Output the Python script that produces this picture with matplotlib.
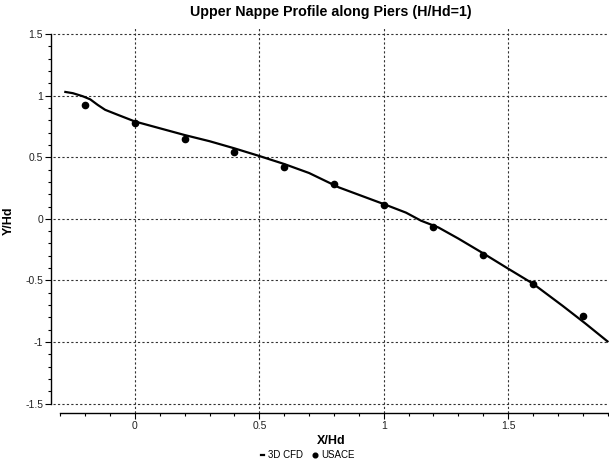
import matplotlib.pyplot as plt
from matplotlib.ticker import MultipleLocator

plt.rcParams['font.family'] = ['Liberation Sans', 'DejaVu Sans']

# 3D CFD free-surface profile
cfd_x = [-0.28, -0.25, -0.21, -0.18, -0.15, -0.12, -0.07, 0.0, 0.1, 0.2, 0.3, 0.4, 0.5,
         0.6, 0.7, 0.82, 1.0, 1.09, 1.15, 1.22, 1.3, 1.4, 1.5, 1.6, 1.72, 1.81, 1.9]
cfd_y = [1.03, 1.02, 0.995, 0.97, 0.925, 0.885, 0.845, 0.79, 0.735, 0.68, 0.63, 0.572, 0.51,
         0.445, 0.372, 0.255, 0.12, 0.05, -0.015, -0.07, -0.16, -0.28, -0.404,
         -0.526, -0.707, -0.848, -0.995]

# USACE design points
usace_x = [-0.2, 0.0, 0.2, 0.4, 0.6, 0.8, 1.0, 1.2, 1.4, 1.6, 1.8]
usace_y = [0.925, 0.775, 0.648, 0.542, 0.417, 0.282, 0.116, -0.07, -0.293, -0.526, -0.786]

fig = plt.figure(figsize=(6.09, 4.63), dpi=100)
ax = fig.add_axes([0.0875, 0.1086, 0.9125, 0.8309])

ax.plot(cfd_x, cfd_y, color='black', lw=1.6, label='3D CFD', zorder=3)
ax.plot(usace_x, usace_y, 'o', color='black', ms=4.5, label='USACE', zorder=4)

ax.set_xlim(-0.3285, 1.906)
ax.set_ylim(-1.574, 1.549)

ax.xaxis.set_minor_locator(MultipleLocator(0.1))
ax.yaxis.set_minor_locator(MultipleLocator(0.1))
ax.set_xticks([0, 0.5, 1, 1.5])
ax.set_xticklabels(['0', '0.5', '1', '1.5'])
ax.set_yticks([-1.5, -1, -0.5, 0, 0.5, 1, 1.5])
ax.set_yticklabels(['-1.5', '-1', '-0.5', '0', '0.5', '1', '1.5'])

ax.grid(True, which='major', color='#333333', linestyle=(0, (2, 2)), lw=0.8)

for side in ['top', 'right']:
    ax.spines[side].set_visible(False)
ax.spines['left'].set_position(('outward', 1.3))
ax.spines['left'].set_bounds(-1.5, 1.5)
ax.spines['bottom'].set_bounds(-0.3, 1.9)
ax.spines['left'].set_linewidth(1.0)
ax.spines['bottom'].set_linewidth(1.0)

ax.tick_params(which='major', direction='out', length=4, width=0.8, labelsize=7.5,
               pad=2, colors='black', labelcolor='#222222')
ax.tick_params(which='minor', direction='out', length=2.2, width=0.8)

ax.set_title('Upper Nappe Profile along Piers (H/Hd=1)', fontsize=10.3,
             fontweight='bold', pad=9)
ax.set_xlabel('X/Hd', fontsize=9, fontweight='bold', labelpad=3)
ax.set_ylabel('Y/Hd', fontsize=9, fontweight='bold')
ax.yaxis.set_label_coords(-0.069, 0.5)

fig.legend(loc='center', bbox_to_anchor=(0.505, 0.017), ncol=2, frameon=False,
           fontsize=7, handlelength=0.3, handletextpad=0.5, columnspacing=1.0,
           markerscale=0.75)

fig.savefig('out.png', dpi=100)
